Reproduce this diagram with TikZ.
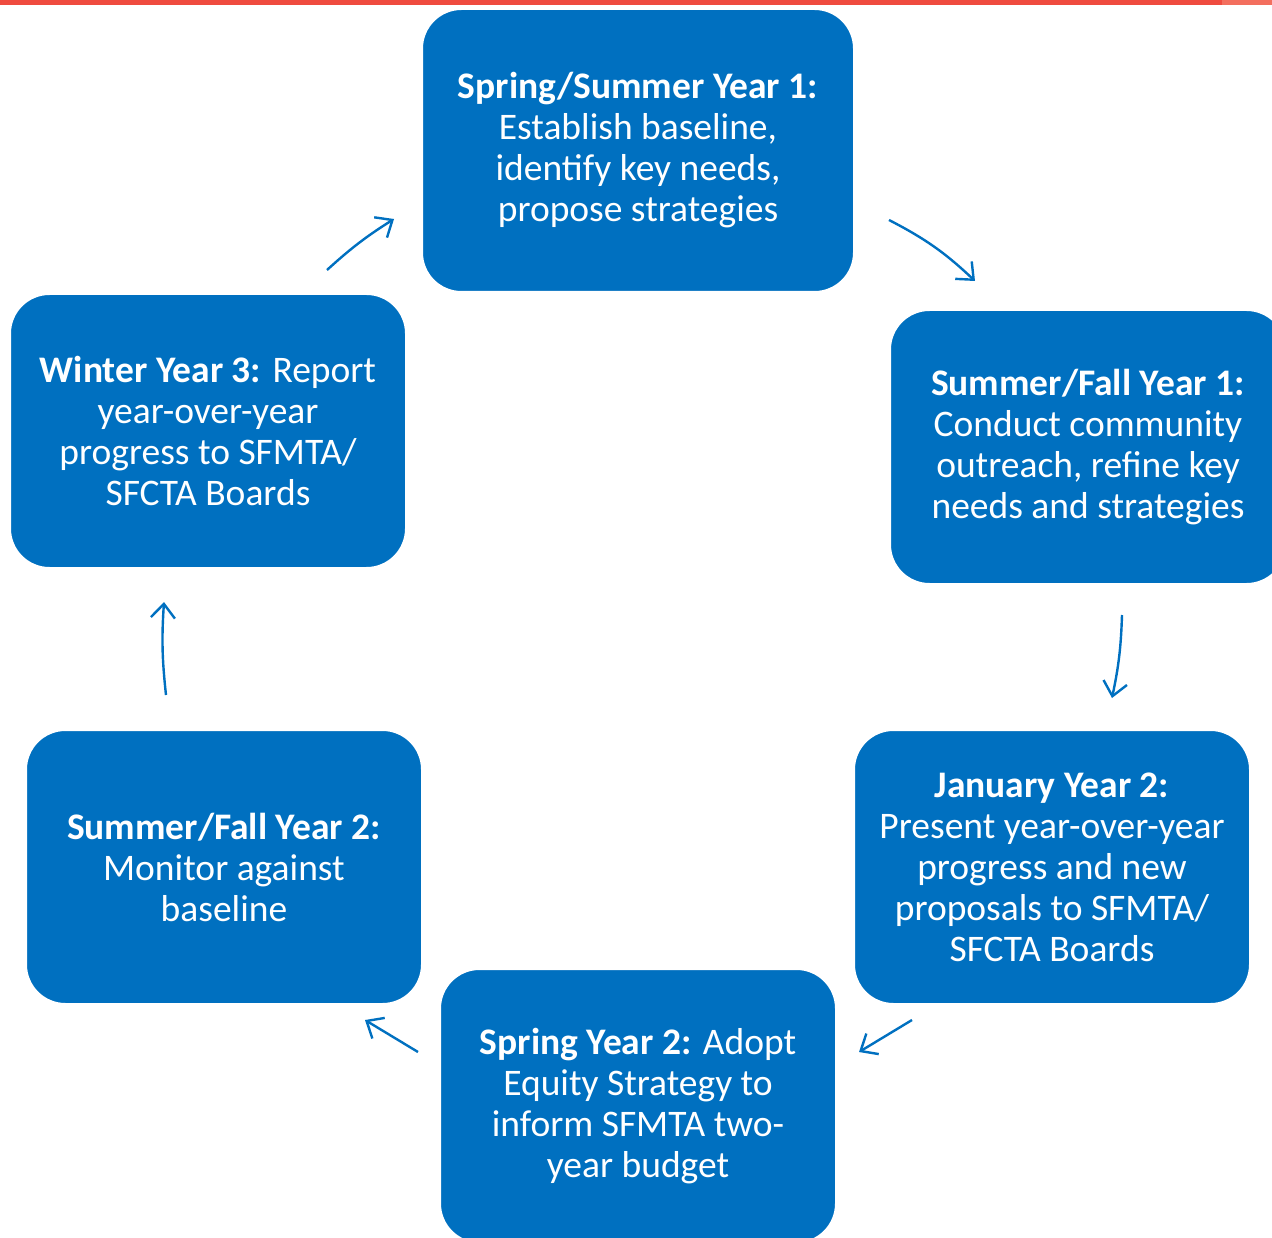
\documentclass[tikz,border=0pt]{standalone}
\usepackage{fontspec}
\setmainfont{Carlito}
\usetikzlibrary{arrows.meta}
\definecolor{boxblue}{HTML}{0070C0}
\definecolor{barred}{HTML}{EF4B3F}
\definecolor{barlight}{HTML}{F36F5E}
\tikzset{
  stagebox/.style={draw=white, line width=3pt, fill=boxblue, rounded corners=40pt,
    text=white, align=center, inner sep=0pt, font=\fontsize{37.5}{41}\selectfont},
  flow/.style={draw=boxblue, line width=2.4pt,
    -{Straight Barb[length=14pt,width=24pt,line width=2.4pt]}}
}
\begin{document}
\begin{tikzpicture}[x=1pt,y=-1pt]
\useasboundingbox (0,0) rectangle (1272,1238);
\clip (0,0) rectangle (1272,1238);
\fill[barred] (0,0) rectangle (1222,5);
\fill[barlight] (1222,0) rectangle (1272,5);

\node[stagebox, minimum width=433pt, minimum height=284pt] (s1) at (638,150.5)
  {\textbf{Spring/Summer Year 1:}\\Establish baseline,\\identify key needs,\\propose strategies};
\node[stagebox, minimum width=397pt, minimum height=275pt] (s2) at (1088,447)
  {\textbf{Summer/Fall Year 1:}\\Conduct community\\outreach, refine key\\needs and strategies};
\node[stagebox, minimum width=397pt, minimum height=275pt] (s3) at (1052,867)
  {\textbf{January Year 2:}\\Present year-over-year\\progress and new\\proposals to SFMTA/\\SFCTA Boards};
\node[stagebox, minimum width=397pt, minimum height=275pt] (s4) at (638,1106)
  {\textbf{Spring Year 2:} Adopt\\Equity Strategy to\\inform SFMTA two-\\year budget};
\node[stagebox, minimum width=397pt, minimum height=275pt] (s5) at (224,867)
  {\textbf{Summer/Fall Year 2:}\\Monitor against\\baseline};
\node[stagebox, minimum width=397pt, minimum height=275pt] (s6) at (208,431)
  {\textbf{Winter Year 3:} Report\\year-over-year\\progress to SFMTA/\\SFCTA Boards};

\coordinate (a1s) at (327,270); \coordinate (a1e) at (394,219);
\coordinate (a2s) at (889,220); \coordinate (a2e) at (975,281);
\coordinate (a3s) at (1122,615); \coordinate (a3e) at (1112,698);
\coordinate (a4s) at (912,1020); \coordinate (a4e) at (859,1052);
\coordinate (a5s) at (418,1052); \coordinate (a5e) at (365,1020);
\coordinate (a6s) at (166,695); \coordinate (a6e) at (164,602);

\draw[flow] (a1s) to[bend left=5] (a1e);
\draw[flow] (a2s) to[bend left=8] (a2e);
\draw[flow] (a3s) to[bend left=5] (a3e);
\draw[flow] (a4s) to (a4e);
\draw[flow] (a5s) to (a5e);
\draw[flow] (a6s) to[bend left=5] (a6e);
\end{tikzpicture}
\end{document}
